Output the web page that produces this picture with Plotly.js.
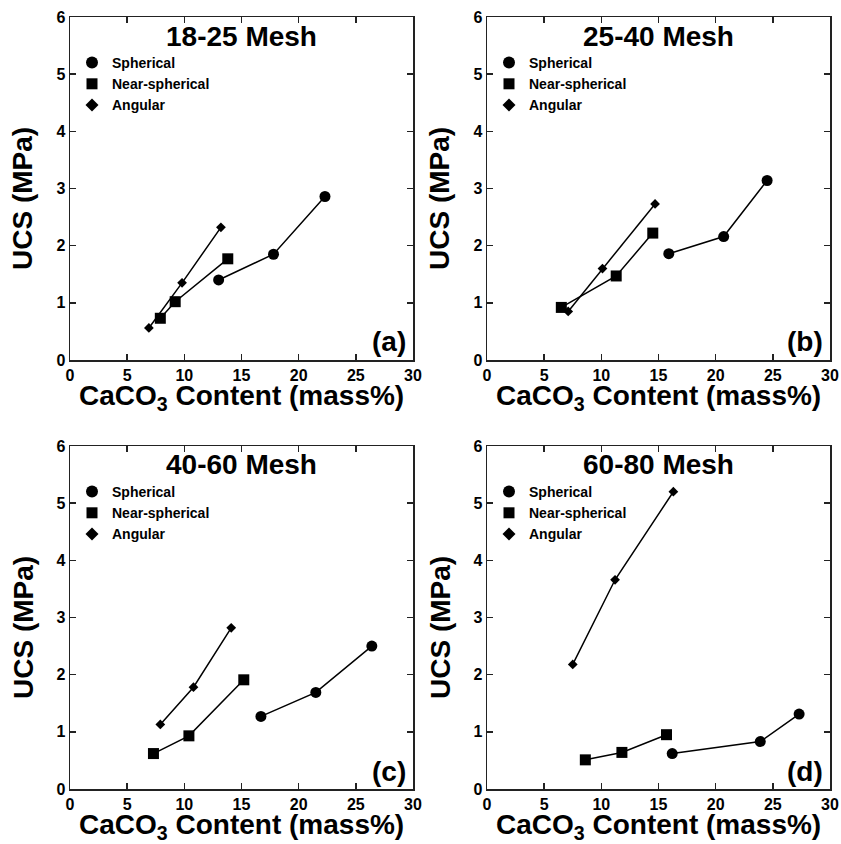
<!DOCTYPE html>
<html>
<head>
<meta charset="utf-8">
<script src="https://cdn.plot.ly/plotly-3.0.1.min.js"></script>
<style>html,body{margin:0;padding:0;background:#fff;}#chart{width:841px;height:844px;}</style>
</head>
<body>
<div id="chart"></div>
<script>
// ---- Data ----
const panelTitles = ['18-25 Mesh', '25-40 Mesh', '40-60 Mesh', '60-80 Mesh'];
const panelLabels = ['(a)', '(b)', '(c)', '(d)'];
const seriesNames = ['Spherical', 'Near-spherical', 'Angular'];

const xA_sph = [13.0, 17.8, 22.3];  const yA_sph = [1.40, 1.85, 2.86];
const xA_near = [7.9, 9.2, 13.8];   const yA_near = [0.73, 1.02, 1.77];
const xA_ang = [6.9, 9.8, 13.2];    const yA_ang = [0.56, 1.35, 2.32];

const xB_sph = [15.9, 20.7, 24.5];  const yB_sph = [1.86, 2.16, 3.14];
const xB_near = [6.5, 11.3, 14.5];  const yB_near = [0.92, 1.47, 2.22];
const xB_ang = [7.1, 10.1, 14.7];   const yB_ang = [0.85, 1.60, 2.73];

const xC_sph = [16.7, 21.5, 26.4];  const yC_sph = [1.27, 1.69, 2.50];
const xC_near = [7.3, 10.4, 15.2];  const yC_near = [0.62, 0.93, 1.91];
const xC_ang = [7.9, 10.8, 14.1];   const yC_ang = [1.13, 1.78, 2.82];

const xD_sph = [16.2, 23.9, 27.3];  const yD_sph = [0.62, 0.83, 1.31];
const xD_near = [8.6, 11.8, 15.7];  const yD_near = [0.51, 0.64, 0.95];
const xD_ang = [7.5, 11.2, 16.3];   const yD_ang = [2.18, 3.66, 5.20];

const xTitle = 'CaCO<sub>3</sub> Content (mass%)';
const yTitle = 'UCS (MPa)';

// ---- Build figure ----
const FONT = '"Liberation Sans", Arial, Helvetica, sans-serif';
const W = 841, H = 844;
const panels = [
  {xs: [xA_sph, xA_near, xA_ang], ys: [yA_sph, yA_near, yA_ang], left: 70, top: 17},
  {xs: [xB_sph, xB_near, xB_ang], ys: [yB_sph, yB_near, yB_ang], left: 487, top: 17},
  {xs: [xC_sph, xC_near, xC_ang], ys: [yC_sph, yC_near, yC_ang], left: 70, top: 446},
  {xs: [xD_sph, xD_near, xD_ang], ys: [yD_sph, yD_near, yD_ang], left: 487, top: 446}
];
const PW = 343, PH = 343;
const symbols = ['circle', 'square', 'diamond'];
const dataSizes = [11, 11, 7.5];
const legendSizes = [12, 11, 10];
const bigFont = {family: FONT, size: 28, weight: 'bold', color: '#000'};

const traces = [];
const layout = {
  width: W, height: H,
  margin: {l: 0, r: 0, t: 0, b: 0},
  paper_bgcolor: '#fff', plot_bgcolor: '#fff',
  font: {family: FONT, color: '#000'},
  showlegend: true,
  annotations: []
};

panels.forEach((p, i) => {
  const n = i === 0 ? '' : String(i + 1);
  const xa = 'x' + n, ya = 'y' + n;
  const legendId = 'legend' + n;
  for (let s = 0; s < 3; s++) {
    traces.push({
      type: 'scatter', mode: 'lines+markers',
      x: p.xs[s], y: p.ys[s], xaxis: xa, yaxis: ya,
      name: seriesNames[s], showlegend: false,
      line: {color: '#000', width: 1.5},
      marker: {symbol: symbols[s], size: dataSizes[s], color: '#000'}
    });
    // legend-only entry (marker only, as in the reference)
    traces.push({
      type: 'scatter', mode: 'markers',
      x: [null], y: [null], xaxis: xa, yaxis: ya,
      name: seriesNames[s], legend: legendId, showlegend: true,
      marker: {symbol: symbols[s], size: legendSizes[s], color: '#000'}
    });
  }
  const axCommon = {
    ticks: 'inside', ticklen: 6, tickwidth: 1.5, tickcolor: '#222',
    showline: true, linewidth: 1.5, linecolor: '#222', mirror: 'ticks',
    showgrid: false, zeroline: false, fixedrange: true,
    tickfont: {family: FONT, size: 16, weight: 'bold', color: '#000'}
  };
  layout['xaxis' + n] = Object.assign({}, axCommon, {
    domain: [p.left / W, (p.left + PW) / W],
    anchor: ya, range: [0, 30], tick0: 0, dtick: 5
  });
  layout['yaxis' + n] = Object.assign({}, axCommon, {
    domain: [1 - (p.top + PH) / H, 1 - p.top / H],
    anchor: xa, range: [0, 6], tick0: 0, dtick: 1
  });
  layout[legendId] = {
    x: (p.left + 2) / W, xanchor: 'left',
    y: 1 - (p.top + 30) / H, yanchor: 'top',
    bgcolor: 'rgba(0,0,0,0)', borderwidth: 0,
    font: {family: FONT, size: 14, weight: 'bold', color: '#000'},
    tracegroupgap: 0
  };
  // panel title
  layout.annotations.push({
    xref: xa + ' domain', yref: ya + ' domain',
    x: 0.5, y: (PH - 19) / PH, xanchor: 'center', yanchor: 'middle',
    text: panelTitles[i], showarrow: false, font: bigFont
  });
  // panel label
  layout.annotations.push({
    xref: xa + ' domain', yref: ya + ' domain',
    x: 1 - 5 / PW, y: 18 / PH, xanchor: 'right', yanchor: 'middle',
    text: panelLabels[i], showarrow: false, font: bigFont
  });
  // x axis title
  layout.annotations.push({
    xref: xa + ' domain', yref: ya + ' domain',
    x: 0.5, y: -18 / PH, xanchor: 'center', yanchor: 'top',
    text: xTitle, showarrow: false, font: bigFont
  });
  // y axis title
  layout.annotations.push({
    xref: xa + ' domain', yref: ya + ' domain',
    x: -47 / PW, y: (PH - 182) / PH, xanchor: 'center', yanchor: 'middle',
    textangle: -90, text: yTitle, showarrow: false, font: bigFont
  });
});

Plotly.newPlot('chart', traces, layout, {displayModeBar: false, staticPlot: true});
</script>
</body>
</html>
